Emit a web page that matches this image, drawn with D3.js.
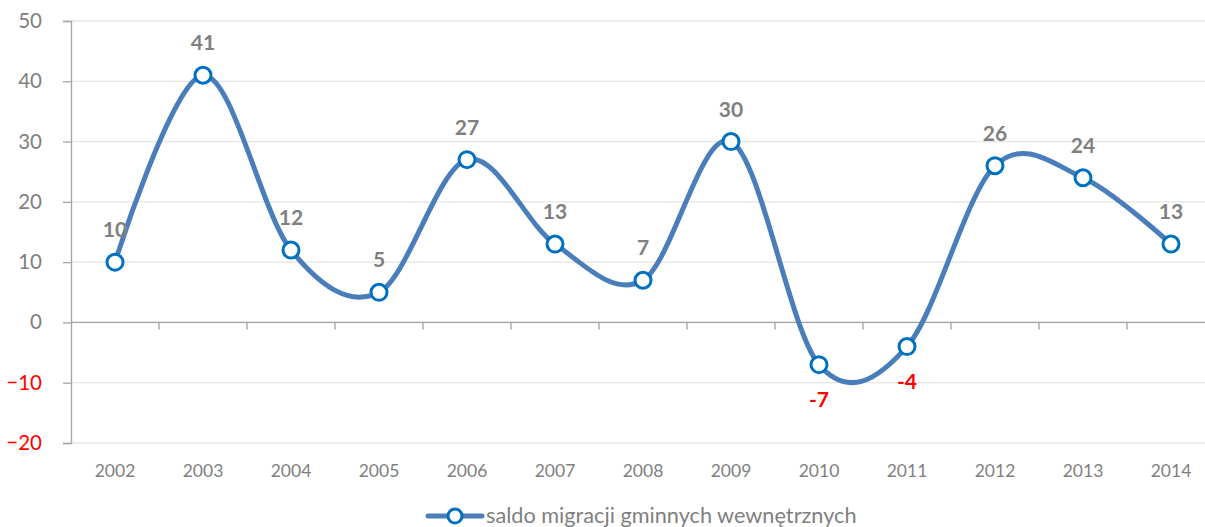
<!DOCTYPE html>
<html>
<head>
<meta charset="utf-8">
<script src="https://cdn.jsdelivr.net/npm/d3@7"></script>
<style>
  body { margin: 0; background: #fff; }
  svg { display: block; font-family: Lato, "Open Sans", sans-serif; }
</style>
</head>
<body>
<div id="chart"></div>
<script>
// data
var years = ["2002","2003","2004","2005","2006","2007","2008","2009","2010","2011","2012","2013","2014"];
var saldo = [10, 41, 12, 5, 27, 13, 7, 30, -7, -4, 26, 24, 13];
var yTicks = [-20, -10, 0, 10, 20, 30, 40, 50];
var seriesName = "saldo migracji gminnych wewnętrznych";

var width = 1205, height = 527;
var margin = {top: 21, left: 71, bottom: 84};
var plotH = height - margin.top - margin.bottom; // 422

var svg = d3.select("#chart").append("svg")
    .attr("width", width)
    .attr("height", height);

var x = d3.scaleBand().domain(years).range([margin.left, margin.left + 88 * years.length]);
var y = d3.scaleLinear().domain([-20, 50]).range([margin.top + plotH, margin.top]);

// gridlines
svg.append("g").selectAll("line")
    .data(yTicks.filter(function(d){ return d !== 0; }))
    .enter().append("line")
    .attr("x1", margin.left).attr("x2", width)
    .attr("y1", function(d){ return y(d); }).attr("y2", function(d){ return y(d); })
    .attr("stroke", "#e5e5e5").attr("stroke-width", 1.3);

// y axis
var yAxis = svg.append("g")
    .attr("transform", "translate(" + margin.left + ",0)")
    .call(d3.axisLeft(y).tickValues(yTicks).tickSize(8).tickPadding(21));
yAxis.select(".domain").attr("stroke", "#a6a6a6").attr("stroke-width", 1.3);
yAxis.selectAll(".tick line").attr("stroke", "#a6a6a6").attr("stroke-width", 1.3);
yAxis.selectAll(".tick text")
    .attr("font-size", 20.5)
    .attr("font-family", "Lato, sans-serif")
    .attr("fill", function(d){ return d < 0 ? "#ff0000" : "#808080"; });

// x axis at zero
var xAxis = svg.append("g")
    .attr("transform", "translate(0," + y(0) + ")");
xAxis.append("line")
    .attr("x1", margin.left).attr("x2", width)
    .attr("stroke", "#a0a0a0").attr("stroke-width", 1.3);
xAxis.selectAll(".sep")
    .data(years.slice(1))
    .enter().append("line")
    .attr("class", "sep")
    .attr("x1", function(d){ return x(d); }).attr("x2", function(d){ return x(d); })
    .attr("y1", 0).attr("y2", 7)
    .attr("stroke", "#a0a0a0").attr("stroke-width", 1.3);

// category labels under the plot
svg.append("g").selectAll("text")
    .data(years)
    .enter().append("text")
    .attr("x", function(d){ return x(d) + x.bandwidth() / 2; })
    .attr("y", y(-20) + 34)
    .attr("text-anchor", "middle")
    .attr("font-size", 17.5)
    .attr("fill", "#808080")
    .text(function(d){ return d; });

// smoothed line
var line = d3.line()
    .x(function(d, i){ return x(years[i]) + x.bandwidth() / 2; })
    .y(function(d){ return y(d); })
    .curve(d3.curveCardinal.tension(0));

svg.append("path")
    .datum(saldo)
    .attr("d", line)
    .attr("fill", "none")
    .attr("stroke", "#4a7ebb")
    .attr("stroke-width", 5)
    .attr("stroke-linecap", "round");

// markers
svg.append("g").selectAll("circle")
    .data(saldo)
    .enter().append("circle")
    .attr("cx", function(d, i){ return x(years[i]) + x.bandwidth() / 2; })
    .attr("cy", function(d){ return y(d); })
    .attr("r", 8)
    .attr("fill", "#fff")
    .attr("stroke", "#0070c0")
    .attr("stroke-width", 3);

// data labels
svg.append("g").selectAll("text")
    .data(saldo)
    .enter().append("text")
    .attr("x", function(d, i){ return x(years[i]) + x.bandwidth() / 2; })
    .attr("y", function(d){ return d < 0 ? y(d) + 42 : y(d) - 25; })
    .attr("text-anchor", "middle")
    .attr("font-size", 21)
    .attr("font-weight", "bold")
    .attr("fill", function(d){ return d < 0 ? "#ff0000" : "#808080"; })
    .text(function(d){ return d; });

// legend
var legend = svg.append("g").attr("transform", "translate(428,516)");
legend.append("line")
    .attr("x1", 0).attr("x2", 54)
    .attr("stroke", "#4a7ebb").attr("stroke-width", 5).attr("stroke-linecap", "round");
legend.append("circle")
    .attr("cx", 27).attr("r", 7)
    .attr("fill", "#fff").attr("stroke", "#0070c0").attr("stroke-width", 3);
legend.append("text")
    .attr("x", 58).attr("y", 7)
    .attr("font-size", 21.7)
    .attr("fill", "#7f7f7f")
    .text(seriesName);
</script>
</body>
</html>
